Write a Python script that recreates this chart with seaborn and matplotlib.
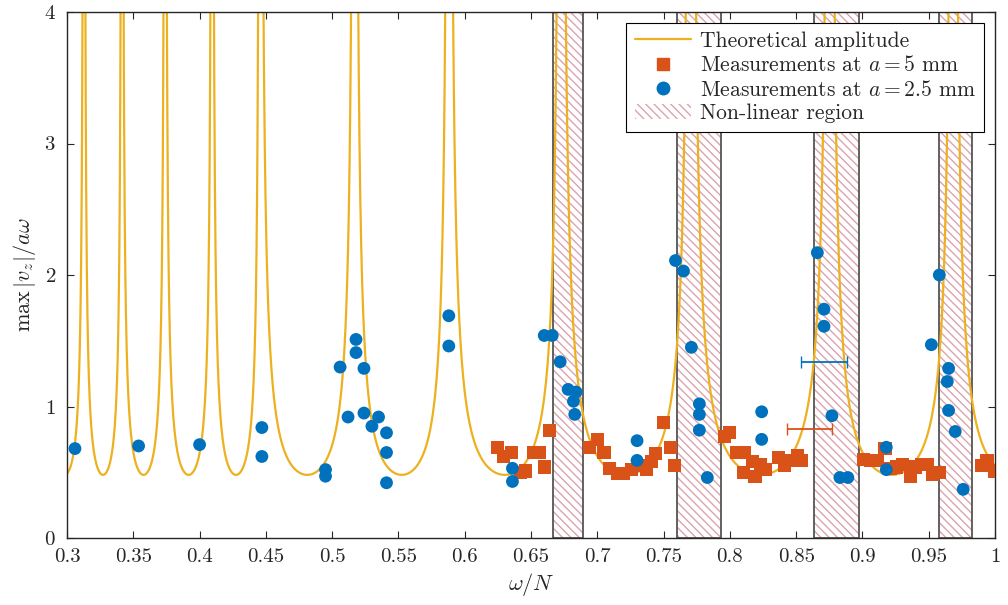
import matplotlib
matplotlib.use("Agg")
import matplotlib.pyplot as plt
from matplotlib.patches import Patch
import numpy as np
import seaborn as sns

# resonance locations of the theoretical curve and its floor value
peaks = [0.2835, 0.3128, 0.3415, 0.374, 0.4095, 0.4455, 0.517, 0.588, 0.6725, 0.7705, 0.8755, 0.9685, 1.062]
floor = 0.48

nonlinear = [(0.6665, 0.6895), (0.7605, 0.793), (0.8635, 0.8975), (0.9575, 0.983)]

blue_x = [0.306, 0.354, 0.400, 0.447, 0.447, 0.495, 0.495, 0.506, 0.512, 0.518, 0.518, 0.524, 0.524,
          0.530, 0.535, 0.541, 0.541, 0.541, 0.588, 0.588, 0.636, 0.636, 0.660, 0.666, 0.672, 0.678,
          0.684, 0.682, 0.683, 0.730, 0.730, 0.759, 0.765, 0.771, 0.777, 0.777, 0.777, 0.783, 0.824,
          0.824, 0.866, 0.871, 0.871, 0.877, 0.883, 0.889, 0.918, 0.918, 0.958, 0.952, 0.965, 0.964,
          0.965, 0.970, 0.976]
blue_y = [0.68, 0.70, 0.71, 0.84, 0.62, 0.52, 0.47, 1.30, 0.92, 1.51, 1.41, 1.29, 0.95,
          0.85, 0.92, 0.80, 0.65, 0.42, 1.69, 1.46, 0.53, 0.43, 1.54, 1.54, 1.34, 1.13,
          1.11, 1.04, 0.94, 0.74, 0.59, 2.11, 2.03, 1.45, 1.02, 0.94, 0.82, 0.46, 0.96,
          0.75, 2.17, 1.74, 1.61, 0.93, 0.46, 0.46, 0.69, 0.52, 2.00, 1.47, 1.29, 1.19,
          0.97, 0.81, 0.37]
blue_err_pt = (0.871, 1.34, 0.0177)

orange_x = [0.625, 0.629, 0.635, 0.642, 0.646, 0.652, 0.656, 0.660, 0.664,
            0.694, 0.700, 0.705, 0.709, 0.715, 0.720, 0.726, 0.732, 0.737, 0.741, 0.744, 0.750, 0.755, 0.758,
            0.796, 0.800, 0.805, 0.811, 0.810, 0.817, 0.819, 0.823, 0.827, 0.837, 0.841, 0.846, 0.851, 0.854,
            0.901, 0.906, 0.911, 0.917, 0.921, 0.926, 0.930, 0.936, 0.940, 0.945, 0.949, 0.953, 0.958,
            0.990, 0.994, 1.000]
orange_y = [0.69, 0.62, 0.65, 0.50, 0.51, 0.65, 0.65, 0.54, 0.82,
            0.69, 0.75, 0.65, 0.53, 0.49, 0.49, 0.52, 0.55, 0.52, 0.58, 0.64, 0.88, 0.69, 0.55,
            0.77, 0.80, 0.65, 0.65, 0.50, 0.58, 0.47, 0.56, 0.52, 0.61, 0.55, 0.59, 0.63, 0.59,
            0.60, 0.59, 0.59, 0.68, 0.53, 0.54, 0.56, 0.47, 0.54, 0.56, 0.56, 0.48, 0.50,
            0.55, 0.59, 0.51]
orange_err_pt = (0.860, 0.83, 0.017)

sns.set_style("ticks")
plt.rcParams["font.family"] = "serif"
plt.rcParams["font.serif"] = ["cmr10", "DejaVu Serif"]
plt.rcParams["mathtext.fontset"] = "cm"
plt.rcParams["axes.formatter.use_mathtext"] = True
plt.rcParams["font.size"] = 15
plt.rcParams["hatch.linewidth"] = 1.0

# theoretical curve: floor / |sin(pi*phase)|, phase running 0..1 between resonances
xs = np.linspace(0.3, 1.0, 6000)
phase = np.interp(xs, peaks, np.arange(len(peaks)))
amp = floor / np.maximum(np.abs(np.sin(np.pi * phase)), 1e-4)
amp = np.minimum(amp, 10)

fig, ax = plt.subplots(figsize=(10.08, 6.05), dpi=100)
fig.subplots_adjust(left=67 / 1008, right=995 / 1008, top=1 - 12 / 605, bottom=1 - 538 / 605)

hatch_col = "#dba3ad"
hatch = "\\\\\\\\"
for a, b in nonlinear:
    ax.axvspan(a, b, facecolor="white", edgecolor=hatch_col, hatch=hatch, lw=0, zorder=1)
    ax.axvspan(a, b, facecolor="none", edgecolor="#555555", lw=1.3, zorder=1.5)

sns.lineplot(x=xs, y=amp, color="#EDB120", lw=1.6, ax=ax, zorder=2, sort=False)
sns.scatterplot(x=orange_x, y=orange_y, marker="s", color="#D95319", s=90, edgecolor="none", ax=ax, zorder=3)
sns.scatterplot(x=blue_x, y=blue_y, marker="o", color="#0072BD", s=85, edgecolor="none", ax=ax, zorder=4)
ax.errorbar(orange_err_pt[0], orange_err_pt[1], xerr=orange_err_pt[2], color="#D95319", capsize=4, lw=1.3, zorder=3)
ax.errorbar(blue_err_pt[0], blue_err_pt[1], xerr=blue_err_pt[2], color="#0072BD", capsize=4, lw=1.3, zorder=4)

ax.set_xlim(0.3, 1.0)
ax.set_ylim(0, 4)
ax.set_xticks(np.arange(0.3, 1.001, 0.05))
ax.set_xticklabels(["0.3", "0.35", "0.4", "0.45", "0.5", "0.55", "0.6", "0.65", "0.7", "0.75",
                    "0.8", "0.85", "0.9", "0.95", "1"])
ax.set_yticks([0, 1, 2, 3, 4])
ax.tick_params(direction="in", top=True, right=True, length=5)
ax.tick_params(axis="y", pad=8)
ax.tick_params(axis="x", pad=7)
for s in ax.spines.values():
    s.set_linewidth(1.0)
ax.set_xlabel(r"$\omega/N$", fontsize=16)
ax.set_ylabel(r"$\max\,|v_z|/a\omega$", fontsize=16)

handles = [
    plt.Line2D([], [], color="#EDB120", lw=1.6),
    plt.Line2D([], [], marker="s", color="#D95319", ls="none", ms=9),
    plt.Line2D([], [], marker="o", color="#0072BD", ls="none", ms=9),
    Patch(facecolor="white", edgecolor=hatch_col, hatch=hatch, lw=0),
]
labels = ["Theoretical amplitude", r"Measurements at $a = 5$ mm",
          r"Measurements at $a = 2.5$ mm", "Non-linear region"]
leg = ax.legend(handles, labels, loc="upper right", fancybox=False, framealpha=1,
                edgecolor="black", fontsize=15.5, borderaxespad=0.5, handlelength=2.6,
                labelspacing=0.2, handletextpad=0.4)
leg.get_frame().set_linewidth(0.8)

fig.savefig("out.png", dpi=100)
